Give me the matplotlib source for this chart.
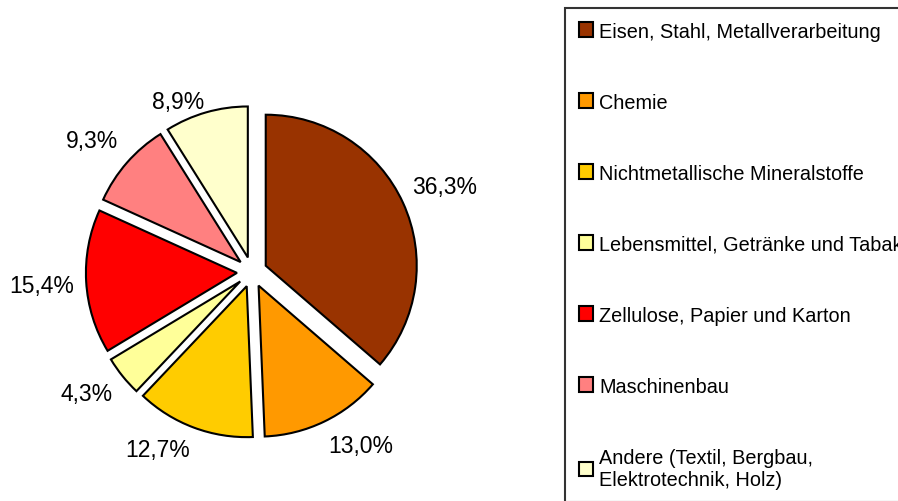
import matplotlib.pyplot as plt

plt.rcParams['font.family'] = ['Liberation Sans', 'DejaVu Sans']

categories = ['Eisen, Stahl, Metallverarbeitung',
              'Chemie',
              'Nichtmetallische Mineralstoffe',
              'Lebensmittel, Getränke und Tabak',
              'Zellulose, Papier und Karton',
              'Maschinenbau',
              'Andere (Textil, Bergbau,\nElektrotechnik, Holz)']
shares = [36.3, 13.0, 12.7, 4.3, 15.4, 9.3, 8.9]
colors = ['#993300', '#FF9900', '#FFCC00', '#FFFF99', '#FF0000', '#FF8080', '#FFFFCC']

W, H = 898, 502
R = 151  # pie radius in px
cx, cy = 252, 229  # pie centre in px (from bottom-left)
# where the percentage labels sit (px, from top-left)
label_px = [(445, 188), (361, 446), (158, 450), (87, 395), (42, 286), (92, 142), (178, 103)]

fig = plt.figure(figsize=(W / 100, H / 100), dpi=100)
ax = fig.add_axes([0, 0, 1, 1])

labels_iter = iter(shares)
wedges, texts, autotexts = ax.pie(
    shares, colors=colors, explode=[0.1] * len(shares), startangle=90,
    counterclock=False, radius=1,
    autopct=lambda p: f'{next(labels_iter):.1f}%'.replace('.', ','),
    pctdistance=1.25,
    wedgeprops=dict(edgecolor='black', linewidth=1.5),
    textprops=dict(fontsize=16.5, color='black'))
for t, (px, py) in zip(autotexts, label_px):
    t.set_position(((px - cx) / R, (H - py - cy) / R))
ax.set_xlim(-cx / R, (W - cx) / R)
ax.set_ylim(-cy / R, (H - cy) / R)
ax.set_aspect('auto')
ax.axis('off')

leg = ax.legend(wedges, categories, loc='upper left',
                bbox_to_anchor=(565 / W, 1 - 9 / H), bbox_transform=fig.transFigure,
                frameon=True, fancybox=False, fontsize=14.3,
                handlelength=0.75, handleheight=0.75, handletextpad=0.3,
                labelspacing=2.62, borderpad=0.68, borderaxespad=0)
leg.get_frame().set_edgecolor('black')
leg.get_frame().set_linewidth(1.5)

fig.savefig('out.png', dpi=100)
